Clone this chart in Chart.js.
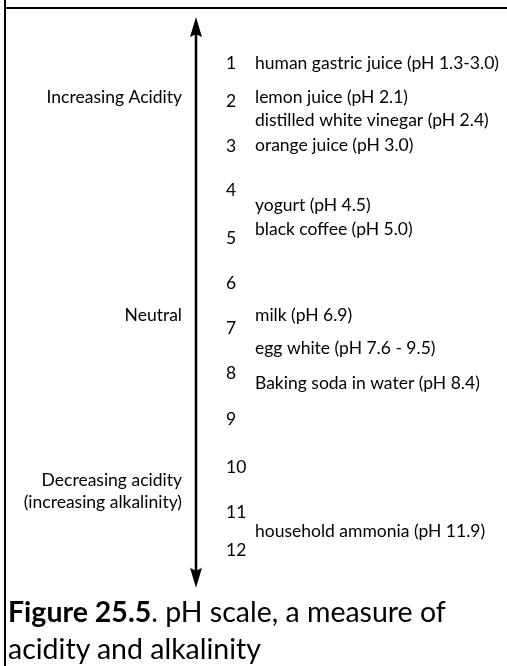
<!DOCTYPE html>
<html lang="en">
<head>
    <meta charset="UTF-8">
    <title>pH scale</title>
    <script src="https://cdn.jsdelivr.net/npm/chart.js"></script>
    <style>
        body { margin: 0; background: #fff; }
        #wrap { position: relative; width: 507px; height: 666px; overflow: hidden; }
        #phChart { position: absolute; left: 0; top: 0; }
        .frameLeft { position: absolute; left: 4px; top: 0; width: 2px; height: 666px; background: #000; }
        .frameTop { position: absolute; left: 4px; top: 7px; right: 0; height: 2px; background: #000; }
        #caption { position: absolute; left: 8px; top: 593px; font-family: Lato, sans-serif; font-size: 28.5px; line-height: 37px; color: #000; white-space: nowrap; }
    </style>
</head>
<body>
<div id="wrap">
    <canvas id="phChart" width="507" height="666"></canvas>
    <div class="frameLeft"></div>
    <div class="frameTop"></div>
    <div id="caption"><b>Figure 25.5</b>. pH scale, a measure of<br>acidity and alkalinity</div>
</div>

<script>
    // scale numbers and the row each one sits on (rows)
    const phNumbers = ['1', '2', '3', '4', '5', '6', '7', '8', '9', '10', '11', '12'];
    const phNumberRows = [1, 1.86, 2.875, 3.87, 4.95, 5.97, 6.99, 8.0, 9.06, 10.13, 11.14, 12];

    // everyday examples
    const examples = [
        'human gastric juice (pH 1.3-3.0)',
        'lemon juice (pH 2.1)',
        'distilled white vinegar (pH 2.4)',
        'orange juice (pH 3.0)',
        'yogurt (pH 4.5)',
        'black coffee (pH 5.0)',
        'milk (pH 6.9)',
        'egg white (pH 7.6 - 9.5)',
        'Baking soda in water (pH 8.4)',
        'household ammonia (pH 11.9)'
    ];
    const exampleRows = [1.0, 1.77, 2.29, 2.85, 4.21, 4.75, 6.69, 7.44, 8.23, 11.59];

    // labels on the left of the arrow
    const sideLabels = ['Increasing Acidity', 'Neutral', 'Decreasing acidity', '(increasing alkalinity)'];
    const sideRows = [1.77, 6.69, 10.42, 10.92];

    // arrow runs between these two rows (centres of the heads)
    const arrowRows = [0.187, 12.63];

    // layout columns (x scale units)
    const col = { side: 182, arrow: 196, numbers: 226, examples: 255 };

    // notched arrow head used as point style, rotated for the bottom end
    function makeHead() {
        const c = document.createElement('canvas');
        c.width = 14; c.height = 22;
        const g = c.getContext('2d');
        g.fillStyle = '#000';
        g.beginPath();
        g.moveTo(7, 1);
        g.lineTo(13, 21);
        g.lineTo(7, 18);
        g.lineTo(1, 21);
        g.closePath();
        g.fill();
        return c;
    }
    const head = makeHead();

    const textFont = '17.5px Lato, sans-serif';

    // draws the text attached to each point of datasets that carry a "texts" list
    const textLabels = {
        id: 'textLabels',
        afterDatasetsDraw(chart) {
            const ctx = chart.ctx;
            chart.data.datasets.forEach((ds, i) => {
                if (!ds.texts) return;
                const meta = chart.getDatasetMeta(i);
                ctx.save();
                ctx.fillStyle = '#000';
                ctx.font = ds.textFont || textFont;
                ctx.textAlign = ds.textAlign || 'left';
                ctx.textBaseline = 'middle';
                meta.data.forEach((pt, j) => {
                    ctx.fillText(ds.texts[j], pt.x, pt.y);
                });
                ctx.restore();
            });
        }
    };

    new Chart(document.getElementById('phChart'), {
        type: 'scatter',
        data: {
            datasets: [
                {
                    label: 'arrow',
                    data: arrowRows.map(r => ({ x: col.arrow, y: r })),
                    showLine: true,
                    borderColor: '#000',
                    borderWidth: 2.5,
                    pointStyle: head,
                    rotation: [0, 180],
                    pointRadius: 8,
                    backgroundColor: '#000'
                },
                {
                    label: 'numbers',
                    data: phNumberRows.map(r => ({ x: col.numbers, y: r })),
                    texts: phNumbers,
                    pointRadius: 0
                },
                {
                    label: 'examples',
                    data: exampleRows.map(r => ({ x: col.examples, y: r })),
                    texts: examples,
                    pointRadius: 0
                },
                {
                    label: 'side',
                    data: sideRows.map(r => ({ x: col.side, y: r })),
                    texts: sideLabels,
                    textAlign: 'right',
                    pointRadius: 0
                }
            ]
        },
        options: {
            responsive: false,
            animation: false,
            devicePixelRatio: 1,
            layout: { padding: 0, autoPadding: false },
            plugins: { legend: { display: false }, tooltip: { enabled: false } },
            scales: {
                x: { type: 'linear', min: 0, max: 507, display: false },
                y: { type: 'linear', min: -0.423, max: 14.621, reverse: true, display: false }
            }
        },
        plugins: [textLabels]
    });
</script>
</body>
</html>
